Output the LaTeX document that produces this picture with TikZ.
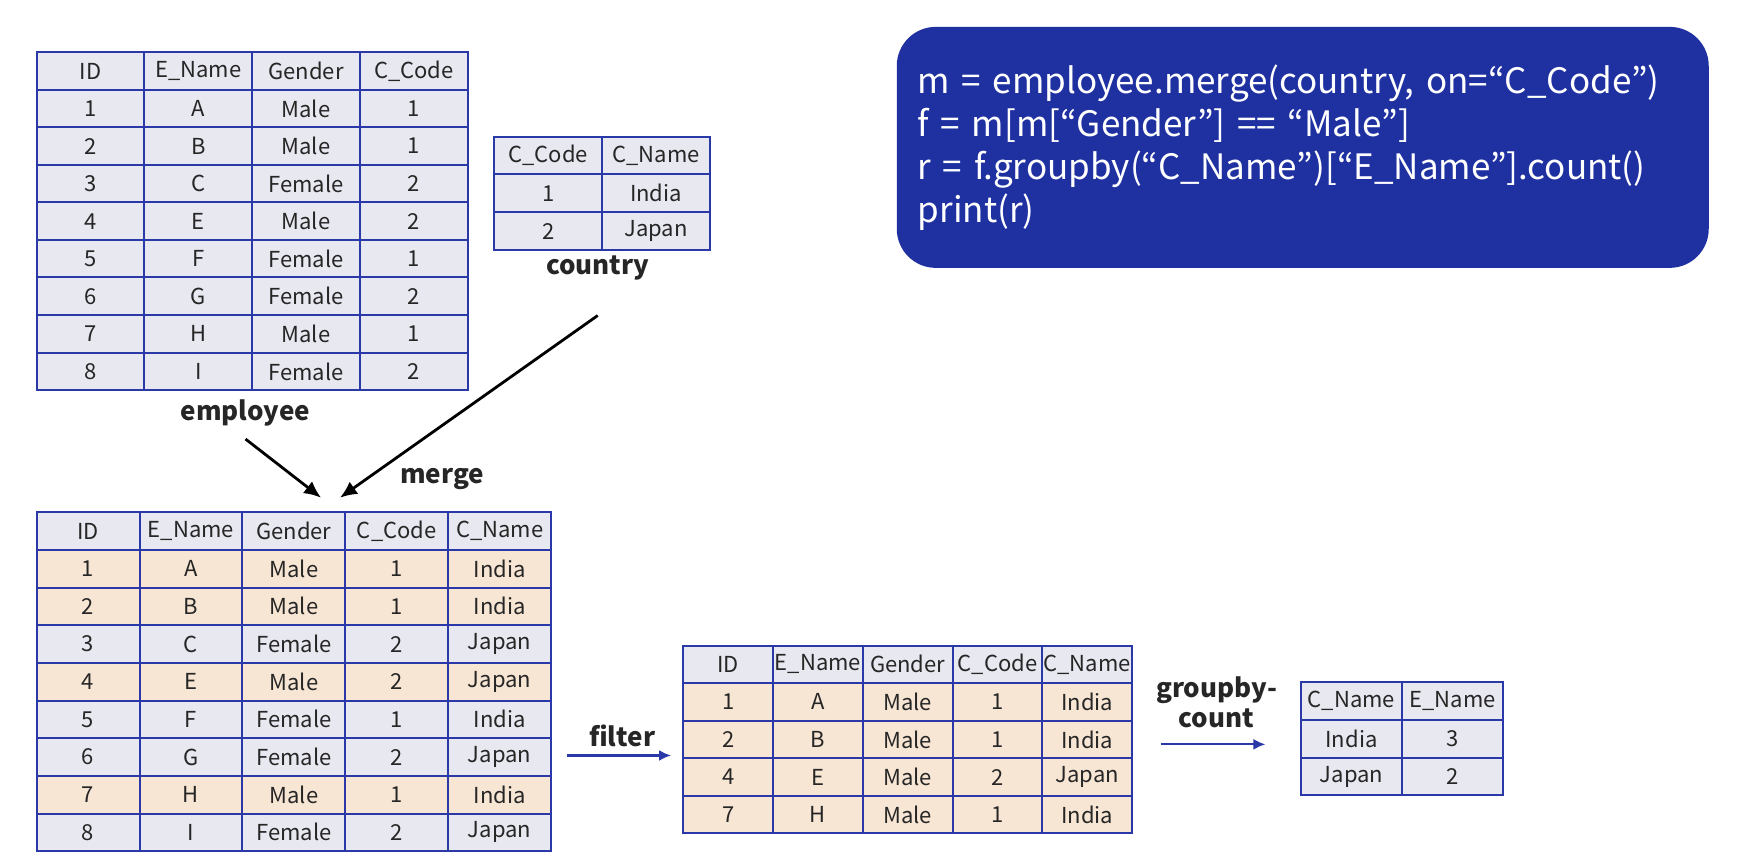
\documentclass[tikz,border=0pt]{standalone}
\usepackage{fontspec}
\setmainfont{Noto Sans CJK JP}
\usetikzlibrary{positioning,arrows.meta}

\definecolor{tblue}{RGB}{43,56,168}
\definecolor{codebg}{RGB}{31,49,160}
\definecolor{gy}{RGB}{232,232,240}
\definecolor{pk}{RGB}{248,230,212}
\definecolor{ink}{RGB}{38,38,38}

\begin{document}
\begin{tikzpicture}
        [
            x = 1.111pt, y = -1.111pt,
            cell/.style       = {shape=rectangle, draw=tblue, line width=2pt, inner sep=0pt,
                                 text=ink, minimum height=37.7pt, font=\fontsize{22}{22}\selectfont},
            empcell/.style    = {cell, fill=gy, minimum width=107.8pt},
            mrgcell/.style    = {cell, minimum width=102.9pt},
            fltcell/.style    = {cell, minimum width=89.8pt},
            rescell/.style    = {cell, fill=gy, minimum width=101.1pt},
            lbl/.style        = {text=ink, font=\fontsize{26}{30}\selectfont\bfseries, align=center},
            code/.style       = {shape=rectangle, rounded corners=39pt, fill=codebg, text=white,
                                 align=left, text width=770pt, inner xsep=21pt,
                                 font=\fontsize{35}{43}\selectfont},
            mergearrow/.style = {draw=black, line width=2.8pt, -{Latex[length=17pt,width=15pt]}},
            flow/.style       = {draw=tblue, line width=2.2pt, -{Latex[length=12pt,width=11pt]}},
            ]
            \useasboundingbox (0,0) rectangle (1568,778.6);

            % employee
            \foreach \r/\a/\b/\c/\d in {0/ID/E\_Name/Gender/C\_Code, 1/1/A/Male/1, 2/2/B/Male/1,
                3/3/C/Female/2, 4/4/E/Male/2, 5/5/F/Female/1, 6/6/G/Female/2, 7/7/H/Male/1, 8/8/I/Female/2}
            {
                \node [empcell] (emp-\r-1) at (81.5, 63.9+33.8*\r) {\a};
                \node [empcell] (emp-\r-2) at (178.5, 63.9+33.8*\r) {\b};
                \node [empcell] (emp-\r-3) at (275.5, 63.9+33.8*\r) {\c};
                \node [empcell] (emp-\r-4) at (372.5, 63.9+33.8*\r) {\d};
            }
            \node [lbl] (emplabel) at (221,372) {employee};

            % country
            \foreach \r/\a/\b in {0/C\_Code/C\_Name, 1/1/India, 2/2/Japan}
            {
                \node [empcell] (cty-\r-1) at (493.5, 140+34*\r) {\a};
                \node [empcell] (cty-\r-2) at (590.5, 140+34*\r) {\b};
            }
            \node [lbl] (ctylabel) at (538,241) {country};

            % merged
            \foreach \r/\f/\a/\b/\c/\d/\e in {0/gy/ID/E\_Name/Gender/C\_Code/C\_Name,
                1/pk/1/A/Male/1/India, 2/pk/2/B/Male/1/India, 3/gy/3/C/Female/2/Japan,
                4/pk/4/E/Male/2/Japan, 5/gy/5/F/Female/1/India, 6/gy/6/G/Female/2/Japan,
                7/pk/7/H/Male/1/India, 8/gy/8/I/Female/2/Japan}
            {
                \node [mrgcell, fill=\f] (mrg-\r-1) at (79.3, 478+33.9*\r) {\a};
                \node [mrgcell, fill=\f] (mrg-\r-2) at (171.9, 478+33.9*\r) {\b};
                \node [mrgcell, fill=\f] (mrg-\r-3) at (264.5, 478+33.9*\r) {\c};
                \node [mrgcell, fill=\f] (mrg-\r-4) at (357.1, 478+33.9*\r) {\d};
                \node [mrgcell, fill=\f] (mrg-\r-5) at (449.7, 478+33.9*\r) {\e};
            }
            \node [lbl] (mrglabel) at (398,431) {merge};

            % filtered
            \foreach \r/\f/\a/\b/\c/\d/\e in {0/gy/ID/E\_Name/Gender/C\_Code/C\_Name,
                1/pk/1/A/Male/1/India, 2/pk/2/B/Male/1/India, 3/pk/4/E/Male/2/Japan,
                4/pk/7/H/Male/1/India}
            {
                \node [fltcell, fill=\f] (flt-\r-1) at (655.4, 598+33.8*\r) {\a};
                \node [fltcell, fill=\f] (flt-\r-2) at (736.2, 598+33.8*\r) {\b};
                \node [fltcell, fill=\f] (flt-\r-3) at (817, 598+33.8*\r) {\c};
                \node [fltcell, fill=\f] (flt-\r-4) at (897.8, 598+33.8*\r) {\d};
                \node [fltcell, fill=\f] (flt-\r-5) at (978.6, 598+33.8*\r) {\e};
            }
            \node [lbl] (fltlabel) at (560,662) {filter};

            % result
            \foreach \r/\a/\b in {0/C\_Name/E\_Name, 1/India/3, 2/Japan/2}
            {
                \node [rescell] (res-\r-1) at (1216.5, 631+34*\r) {\a};
                \node [rescell] (res-\r-2) at (1307.5, 631+34*\r) {\b};
            }
            \node [lbl] (grplabel) at (1095,632) {groupby-\\count};

            % code
            \node [code, anchor=north west, minimum width=812pt, minimum height=241pt] (script) at (807,24)
                {m = employee.merge(country, on=“C\_Code”)\\
                 f = m[m[“Gender”] == “Male”]\\
                 r = f.groupby(“C\_Name”)[“E\_Name”].count()\\
                 print(r)};

            % arrows
            \coordinate (emptip) at (289,448);
            \coordinate (ctytip) at (306,448);
            \coordinate (ctytail) at (538,284);
            \coordinate (flttail) at (510,680);
            \coordinate (flthead) at (604,680);
            \coordinate (grptail) at (1045,670);
            \coordinate (grphead) at (1139,670);
            \draw [mergearrow] ([yshift=-9pt]emplabel.south) -- (emptip);
            \draw [mergearrow] (ctytail) -- (ctytip);
            \draw [flow] (flttail) -- (flthead);
            \draw [flow] (grptail) -- (grphead);
        \end{tikzpicture}
\end{document}
